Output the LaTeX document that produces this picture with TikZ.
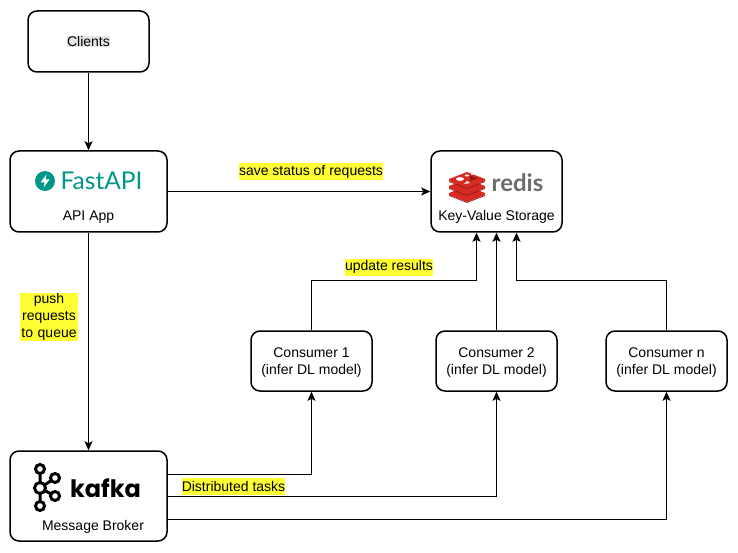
\documentclass[tikz,border=0pt]{standalone}
\usepackage{fontspec}
\usetikzlibrary{arrows.meta}
\setmainfont{Liberation Sans}
\newfontfamily\fastfont{Lato}
\newfontfamily\kafkafont{Poppins}
\newfontfamily\redisfont{Lato}
\definecolor{hlyellow}{RGB}{255,255,51}
\definecolor{hlgray}{RGB}{230,230,230}
\definecolor{fastteal}{RGB}{0,150,136}
\definecolor{redisred}{RGB}{214,42,34}
\definecolor{redisdark}{RGB}{150,24,20}
\definecolor{redisgray}{RGB}{108,108,108}
\tikzset{
    box/.style={draw, line width=1.5pt, rounded corners=9pt, inner sep=0pt},
    lab/.style={fill=hlyellow, inner sep=0pt, minimum height=17pt, font=\fontsize{14}{17}\selectfont},
    txt/.style={inner sep=0pt, align=center, font=\fontsize{14}{17}\selectfont},
    link/.style={-{Stealth[length=9pt,width=8pt,inset=2pt]}, line width=1pt},
    kafkaring/.style={draw, line width=3pt, fill=white},
}
\begin{document}
\begin{tikzpicture}[x=1pt, y=-1pt]
    \useasboundingbox (0,0) rectangle (738,553);
    % boxes
    \node[box, minimum width=121pt, minimum height=61pt] (clients) at (88.5,41.5) {};
    \node[box, minimum width=157pt, minimum height=81pt] (fastapi) at (88.5,191.5) {};
    \node[box, minimum width=131pt, minimum height=81pt] (redis) at (496.5,191.5) {};
    \node[box, minimum width=157pt, minimum height=90pt] (kafka) at (88.5,496) {};
    \node[box, minimum width=121pt, minimum height=60pt] (cons1) at (311.5,361) {};
    \node[box, minimum width=121pt, minimum height=60pt] (cons2) at (496.5,361) {};
    \node[box, minimum width=121pt, minimum height=60pt] (consn) at (666.5,361) {};
    % texts in boxes
    \node[txt, fill=hlgray] (clientstxt) at (88.5,41.5) {Clients};
    \node[txt] (apptxt) at (88.5,217) {API App};
    \node[txt] (kvtxt) at (496.5,217) {Key-Value Storage};
    \node[txt] (brokertxt) at (93,527) {Message Broker};
    \node[txt] (cons1txt) at (311.5,363) {Consumer 1\\(infer DL model)};
    \node[txt] (cons2txt) at (496.5,363) {Consumer 2\\(infer DL model)};
    \node[txt] (consntxt) at (666.5,363) {Consumer n\\(infer DL model)};
    % fastapi logo
    \fill[fastteal] (45,181) circle (10);
    \fill[white] (46.5,174.5) -- (40.5,182.5) -- (44.5,182.5) -- (43.5,187.5) -- (49.5,179.5) -- (45.5,179.5) -- cycle;
    \node[inner sep=0pt, text=fastteal, font=\fastfont\fontsize{24.5}{24.5}\selectfont] (fastlogo) at (101.5,181) {FastAPI};
    % redis logo
    \foreach \dy in {14, 7, 0} {
        \fill[redisred] (449,179+\dy) -- (467,172+\dy) -- (485,179+\dy) -- (485,181+\dy) -- (467,188+\dy) -- (449,181+\dy) -- cycle;
        \draw[redisdark, line width=0.7pt] (449,181.5+\dy) -- (467,188.5+\dy) -- (485,181.5+\dy);
    }
    \fill[redisdark] (478,178.5) -- (470,181) -- (470,175.5) -- cycle;
    \fill[white] (460,179) ellipse (4 and 1.8);
    \fill[white] (467,175.5) ellipse (2.2 and 1);
    \fill[white] (472,174) circle (1);
    \fill[white] (464,184) -- (467,181) -- (470,183) -- cycle;
    \node[inner sep=0pt, text=redisgray, font=\redisfont\bfseries\fontsize{24}{24}\selectfont] (redislogo) at (517.5,183) {redis};
    % kafka logo
    \draw[line width=3pt] (40,469) -- (40,506) (40,488) -- (55,478) (40,488) -- (55,496);
    \foreach \px/\py in {40/469, 40/506, 55/478, 55/496} {
        \draw[kafkaring] (\px,\py) circle (4.5);
    }
    \draw[kafkaring] (40,488) circle (5.5);
    \node[inner sep=0pt, font=\kafkafont\bfseries\fontsize{24}{24}\selectfont] (kafkalogo) at (105.5,488) {kafka};
    % connectors
    \draw[link] (clients) -- (fastapi);
    \draw[link] (fastapi) -- (kafka);
    \draw[link] (fastapi) -- (redis);
    \coordinate (redisleft) at ([xshift=-20pt]redis.south);
    \coordinate (redisright) at ([xshift=20pt]redis.south);
    \draw[link] (cons1.north) |- ++(0,-50) -| (redisleft);
    \draw[link] (cons2) -- (redis);
    \draw[link] (consn.north) |- ++(0,-50) -| (redisright);
    \coordinate (kafkaup) at ([yshift=22pt]kafka.east);
    \coordinate (kafkadown) at ([yshift=-23pt]kafka.east);
    \draw[link] (kafkaup) -| (cons1.south);
    \draw[link] (kafka.east) -| (cons2.south);
    \draw[link] (kafkadown) -| (consn.south);
    % labels
    \node[lab] (savelab) at (311,172) {save status of requests};
    \node[lab] (updatelab) at (389,267) {update results};
    \node[lab] (tasklab) at (233.5,486) {Distributed tasks};
    \node[lab, align=center, text width=58pt] (pushlab) at (49,317) {push\\requests\\to queue};
\end{tikzpicture}
\end{document}
